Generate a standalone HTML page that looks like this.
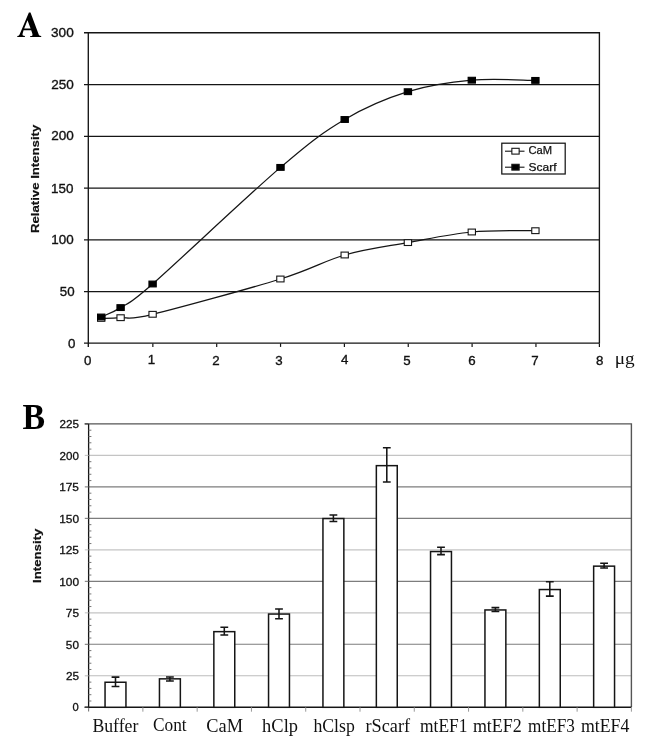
<!DOCTYPE html>
<html><head><meta charset="utf-8"><style>
html,body{margin:0;padding:0;background:#fff;}
body{width:647px;height:743px;overflow:hidden;}
svg{display:block;will-change:transform;}
.ta{font-family:"Liberation Sans",sans-serif;font-size:13.3px;fill:#111;stroke:#111;stroke-width:0.35px;}
.tb{font-family:"Liberation Sans",sans-serif;font-size:11.2px;fill:#111;stroke:#111;stroke-width:0.3px;}
.lg{font-family:"Liberation Sans",sans-serif;font-size:11px;fill:#111;stroke:#111;stroke-width:0.25px;}
.yt{font-family:"Liberation Sans",sans-serif;font-size:11px;font-weight:bold;fill:#111;stroke:#111;stroke-width:0.2px;}
.pl{font-family:"Liberation Serif",serif;font-size:35px;font-weight:bold;fill:#000;}
.mu{font-family:"Liberation Serif",serif;font-size:16px;fill:#111;}
.cat{font-family:"Liberation Serif",serif;font-size:18.2px;fill:#111;}
</style></head><body>
<svg width="647" height="743" viewBox="0 0 647 743">
<rect width="647" height="743" fill="#fff"/>
<line x1="84.00" y1="291.62" x2="599.40" y2="291.62" stroke="#151515" stroke-width="1.25"/>
<line x1="84.00" y1="239.85" x2="599.40" y2="239.85" stroke="#151515" stroke-width="1.25"/>
<line x1="84.00" y1="188.07" x2="599.40" y2="188.07" stroke="#151515" stroke-width="1.25"/>
<line x1="84.00" y1="136.30" x2="599.40" y2="136.30" stroke="#151515" stroke-width="1.25"/>
<line x1="84.00" y1="84.52" x2="599.40" y2="84.52" stroke="#151515" stroke-width="1.25"/>
<path d="M84.00 32.75H599.40V343.40" fill="none" stroke="#151515" stroke-width="1.35"/>
<line x1="88.30" y1="32.75" x2="88.30" y2="346.90" stroke="#151515" stroke-width="1.35"/>
<line x1="84.00" y1="343.10" x2="599.40" y2="343.10" stroke="#151515" stroke-width="1.35"/>
<line x1="152.85" y1="343.40" x2="152.85" y2="346.90" stroke="#151515" stroke-width="1.2"/>
<line x1="216.70" y1="343.40" x2="216.70" y2="346.90" stroke="#151515" stroke-width="1.2"/>
<line x1="280.55" y1="343.40" x2="280.55" y2="346.90" stroke="#151515" stroke-width="1.2"/>
<line x1="344.40" y1="343.40" x2="344.40" y2="346.90" stroke="#151515" stroke-width="1.2"/>
<line x1="408.25" y1="343.40" x2="408.25" y2="346.90" stroke="#151515" stroke-width="1.2"/>
<line x1="472.10" y1="343.40" x2="472.10" y2="346.90" stroke="#151515" stroke-width="1.2"/>
<line x1="535.95" y1="343.40" x2="535.95" y2="346.90" stroke="#151515" stroke-width="1.2"/>
<line x1="599.40" y1="343.40" x2="599.40" y2="346.90" stroke="#151515" stroke-width="1.2"/>
<text id="ya300" x="51.01" y="37.20" textLength="22.71" lengthAdjust="spacingAndGlyphs" class="ta">300</text>
<text id="ya250" x="51.21" y="88.97" textLength="22.57" lengthAdjust="spacingAndGlyphs" class="ta">250</text>
<text id="ya200" x="51.21" y="140.44" textLength="22.57" lengthAdjust="spacingAndGlyphs" class="ta">200</text>
<text id="ya150" x="51.05" y="192.55" textLength="22.35" lengthAdjust="spacingAndGlyphs" class="ta">150</text>
<text id="ya100" x="51.27" y="244.30" textLength="22.37" lengthAdjust="spacingAndGlyphs" class="ta">100</text>
<text id="ya50" x="59.75" y="296.07" textLength="14.80" lengthAdjust="spacingAndGlyphs" class="ta">50</text>
<text id="ya0" x="68.01" y="347.70" class="ta">0</text>
<text id="xa0" x="83.99" y="364.75" class="ta">0</text>
<text id="xa1" x="147.85" y="364.31" class="ta">1</text>
<text id="xa2" x="212.24" y="364.56" class="ta">2</text>
<text id="xa3" x="275.23" y="364.56" class="ta">3</text>
<text id="xa4" x="341.01" y="364.32" class="ta">4</text>
<text id="xa5" x="403.33" y="364.60" class="ta">5</text>
<text id="xa6" x="468.17" y="364.58" class="ta">6</text>
<text id="xa7" x="531.14" y="364.60" class="ta">7</text>
<text id="xa8" x="596.04" y="364.60" class="ta">8</text>
<text id="mu" x="614.72" y="364.18" textLength="19.89" lengthAdjust="spacingAndGlyphs" class="mu">&#956;g</text>
<text transform="translate(39.4,233.0) rotate(-90)" textLength="108.3" lengthAdjust="spacingAndGlyphs" class="yt">Relative Intensity</text>
<path d="M28.9 12.6L30.5 12.6L38.9 34.9Q39.6 35.9 41.2 36.1L41.2 37.1L30.2 37.1L30.2 36.1Q32.2 36.0 32.5 35.2Q32.6 34.6 32.3 33.6L31.2 30.3L23.6 30.3L22.7 33.2Q22.2 35.0 22.9 35.6Q23.5 36.0 24.9 36.1L24.9 37.1L17.3 37.1L17.3 36.1Q18.8 36.0 19.6 34.4ZM27.5 20.2L24.2 28.6L30.6 28.6Z" fill="#000" fill-rule="evenodd"/>
<path d="M101.20 318.40C104.43 318.28 112.03 318.38 120.60 317.70C129.17 317.02 125.97 320.75 152.60 314.30C179.23 307.85 248.38 288.88 280.40 279.00C312.42 269.12 323.45 261.07 344.70 255.00C365.95 248.93 386.72 246.43 407.90 242.60C429.08 238.77 450.55 233.98 471.80 232.00C493.05 230.02 524.80 230.92 535.40 230.70" fill="none" stroke="#151515" stroke-width="1.25"/>
<path d="M101.20 317.00C104.43 315.43 112.03 313.10 120.60 307.60C129.17 302.10 125.95 307.37 152.60 284.00C179.25 260.63 248.48 194.82 280.50 167.40C312.52 139.98 323.47 132.12 344.70 119.50C365.93 106.88 386.72 98.25 407.90 91.70C429.08 85.15 450.55 82.08 471.80 80.20C493.05 78.32 524.80 80.37 535.40 80.40" fill="none" stroke="#151515" stroke-width="1.25"/>
<rect x="97.55" y="315.50" width="7.3" height="5.8" fill="#fff" stroke="#151515" stroke-width="1.1"/>
<rect x="116.95" y="314.80" width="7.3" height="5.8" fill="#fff" stroke="#151515" stroke-width="1.1"/>
<rect x="148.95" y="311.40" width="7.3" height="5.8" fill="#fff" stroke="#151515" stroke-width="1.1"/>
<rect x="276.75" y="276.10" width="7.3" height="5.8" fill="#fff" stroke="#151515" stroke-width="1.1"/>
<rect x="341.05" y="252.10" width="7.3" height="5.8" fill="#fff" stroke="#151515" stroke-width="1.1"/>
<rect x="404.25" y="239.70" width="7.3" height="5.8" fill="#fff" stroke="#151515" stroke-width="1.1"/>
<rect x="468.15" y="229.10" width="7.3" height="5.8" fill="#fff" stroke="#151515" stroke-width="1.1"/>
<rect x="531.75" y="227.80" width="7.3" height="5.8" fill="#fff" stroke="#151515" stroke-width="1.1"/>
<rect x="97.55" y="314.10" width="7.3" height="5.8" fill="#000" stroke="#000" stroke-width="1.1"/>
<rect x="116.95" y="304.70" width="7.3" height="5.8" fill="#000" stroke="#000" stroke-width="1.1"/>
<rect x="148.95" y="281.10" width="7.3" height="5.8" fill="#000" stroke="#000" stroke-width="1.1"/>
<rect x="276.85" y="164.50" width="7.3" height="5.8" fill="#000" stroke="#000" stroke-width="1.1"/>
<rect x="341.05" y="116.60" width="7.3" height="5.8" fill="#000" stroke="#000" stroke-width="1.1"/>
<rect x="404.25" y="88.80" width="7.3" height="5.8" fill="#000" stroke="#000" stroke-width="1.1"/>
<rect x="468.15" y="77.30" width="7.3" height="5.8" fill="#000" stroke="#000" stroke-width="1.1"/>
<rect x="531.75" y="77.50" width="7.3" height="5.8" fill="#000" stroke="#000" stroke-width="1.1"/>
<rect x="501.8" y="143.2" width="63.4" height="30.8" fill="#fff" stroke="#151515" stroke-width="1.25"/>
<line x1="505" y1="151.2" x2="524.5" y2="151.2" stroke="#151515" stroke-width="1.1"/>
<rect x="511.85" y="148.30" width="7.3" height="5.8" fill="#fff" stroke="#151515" stroke-width="1.1"/>
<text id="lgCaM" x="528.42" y="154.45" textLength="23.58" lengthAdjust="spacingAndGlyphs" class="lg">CaM</text>
<line x1="505" y1="167.2" x2="524.5" y2="167.2" stroke="#151515" stroke-width="1.1"/>
<rect x="511.85" y="164.30" width="7.3" height="5.8" fill="#000" stroke="#151515" stroke-width="1.1"/>
<text id="lgScarf" x="528.62" y="170.69" textLength="27.93" lengthAdjust="spacingAndGlyphs" class="lg">Scarf</text>
<line x1="88.60" y1="675.81" x2="631.40" y2="675.81" stroke="#bdbdbd" stroke-width="1.1"/>
<line x1="88.60" y1="644.32" x2="631.40" y2="644.32" stroke="#7d7d7d" stroke-width="1.1"/>
<line x1="88.60" y1="612.83" x2="631.40" y2="612.83" stroke="#c4c4c4" stroke-width="1.1"/>
<line x1="88.60" y1="581.34" x2="631.40" y2="581.34" stroke="#7d7d7d" stroke-width="1.1"/>
<line x1="88.60" y1="549.86" x2="631.40" y2="549.86" stroke="#c4c4c4" stroke-width="1.1"/>
<line x1="88.60" y1="518.37" x2="631.40" y2="518.37" stroke="#7d7d7d" stroke-width="1.1"/>
<line x1="88.60" y1="486.88" x2="631.40" y2="486.88" stroke="#7d7d7d" stroke-width="1.1"/>
<line x1="88.60" y1="455.39" x2="631.40" y2="455.39" stroke="#c4c4c4" stroke-width="1.1"/>
<path d="M84.60 423.90H631.40V707.30" fill="none" stroke="#555" stroke-width="1.4"/>
<line x1="88.60" y1="423.90" x2="88.60" y2="708.30" stroke="#151515" stroke-width="1.3"/>
<line x1="88.60" y1="708.30" x2="88.60" y2="711.50" stroke="#777" stroke-width="1.1"/>
<line x1="84.60" y1="707.30" x2="631.40" y2="707.30" stroke="#151515" stroke-width="1.4"/>
<line x1="84.80" y1="707.30" x2="88.60" y2="707.30" stroke="#444" stroke-width="1.1"/>
<line x1="84.80" y1="675.81" x2="88.60" y2="675.81" stroke="#bdbdbd" stroke-width="1.1"/>
<line x1="84.80" y1="644.32" x2="88.60" y2="644.32" stroke="#7d7d7d" stroke-width="1.1"/>
<line x1="84.80" y1="612.83" x2="88.60" y2="612.83" stroke="#c4c4c4" stroke-width="1.1"/>
<line x1="84.80" y1="581.34" x2="88.60" y2="581.34" stroke="#7d7d7d" stroke-width="1.1"/>
<line x1="84.80" y1="549.86" x2="88.60" y2="549.86" stroke="#c4c4c4" stroke-width="1.1"/>
<line x1="84.80" y1="518.37" x2="88.60" y2="518.37" stroke="#7d7d7d" stroke-width="1.1"/>
<line x1="84.80" y1="486.88" x2="88.60" y2="486.88" stroke="#7d7d7d" stroke-width="1.1"/>
<line x1="84.80" y1="455.39" x2="88.60" y2="455.39" stroke="#c4c4c4" stroke-width="1.1"/>
<line x1="84.80" y1="423.90" x2="88.60" y2="423.90" stroke="#444" stroke-width="1.1"/>
<line x1="88.60" y1="701.00" x2="91.40" y2="701.00" stroke="#777" stroke-width="1.0"/>
<line x1="88.60" y1="694.70" x2="91.40" y2="694.70" stroke="#777" stroke-width="1.0"/>
<line x1="88.60" y1="688.41" x2="91.40" y2="688.41" stroke="#777" stroke-width="1.0"/>
<line x1="88.60" y1="682.11" x2="91.40" y2="682.11" stroke="#777" stroke-width="1.0"/>
<line x1="88.60" y1="669.51" x2="91.40" y2="669.51" stroke="#777" stroke-width="1.0"/>
<line x1="88.60" y1="663.22" x2="91.40" y2="663.22" stroke="#777" stroke-width="1.0"/>
<line x1="88.60" y1="656.92" x2="91.40" y2="656.92" stroke="#777" stroke-width="1.0"/>
<line x1="88.60" y1="650.62" x2="91.40" y2="650.62" stroke="#777" stroke-width="1.0"/>
<line x1="88.60" y1="638.02" x2="91.40" y2="638.02" stroke="#777" stroke-width="1.0"/>
<line x1="88.60" y1="631.73" x2="91.40" y2="631.73" stroke="#777" stroke-width="1.0"/>
<line x1="88.60" y1="625.43" x2="91.40" y2="625.43" stroke="#777" stroke-width="1.0"/>
<line x1="88.60" y1="619.13" x2="91.40" y2="619.13" stroke="#777" stroke-width="1.0"/>
<line x1="88.60" y1="606.54" x2="91.40" y2="606.54" stroke="#777" stroke-width="1.0"/>
<line x1="88.60" y1="600.24" x2="91.40" y2="600.24" stroke="#777" stroke-width="1.0"/>
<line x1="88.60" y1="593.94" x2="91.40" y2="593.94" stroke="#777" stroke-width="1.0"/>
<line x1="88.60" y1="587.64" x2="91.40" y2="587.64" stroke="#777" stroke-width="1.0"/>
<line x1="88.60" y1="575.05" x2="91.40" y2="575.05" stroke="#777" stroke-width="1.0"/>
<line x1="88.60" y1="568.75" x2="91.40" y2="568.75" stroke="#777" stroke-width="1.0"/>
<line x1="88.60" y1="562.45" x2="91.40" y2="562.45" stroke="#777" stroke-width="1.0"/>
<line x1="88.60" y1="556.15" x2="91.40" y2="556.15" stroke="#777" stroke-width="1.0"/>
<line x1="88.60" y1="543.56" x2="91.40" y2="543.56" stroke="#777" stroke-width="1.0"/>
<line x1="88.60" y1="537.26" x2="91.40" y2="537.26" stroke="#777" stroke-width="1.0"/>
<line x1="88.60" y1="530.96" x2="91.40" y2="530.96" stroke="#777" stroke-width="1.0"/>
<line x1="88.60" y1="524.66" x2="91.40" y2="524.66" stroke="#777" stroke-width="1.0"/>
<line x1="88.60" y1="512.07" x2="91.40" y2="512.07" stroke="#777" stroke-width="1.0"/>
<line x1="88.60" y1="505.77" x2="91.40" y2="505.77" stroke="#777" stroke-width="1.0"/>
<line x1="88.60" y1="499.47" x2="91.40" y2="499.47" stroke="#777" stroke-width="1.0"/>
<line x1="88.60" y1="493.18" x2="91.40" y2="493.18" stroke="#777" stroke-width="1.0"/>
<line x1="88.60" y1="480.58" x2="91.40" y2="480.58" stroke="#777" stroke-width="1.0"/>
<line x1="88.60" y1="474.28" x2="91.40" y2="474.28" stroke="#777" stroke-width="1.0"/>
<line x1="88.60" y1="467.98" x2="91.40" y2="467.98" stroke="#777" stroke-width="1.0"/>
<line x1="88.60" y1="461.69" x2="91.40" y2="461.69" stroke="#777" stroke-width="1.0"/>
<line x1="88.60" y1="449.09" x2="91.40" y2="449.09" stroke="#777" stroke-width="1.0"/>
<line x1="88.60" y1="442.79" x2="91.40" y2="442.79" stroke="#777" stroke-width="1.0"/>
<line x1="88.60" y1="436.50" x2="91.40" y2="436.50" stroke="#777" stroke-width="1.0"/>
<line x1="88.60" y1="430.20" x2="91.40" y2="430.20" stroke="#777" stroke-width="1.0"/>
<line x1="142.88" y1="707.30" x2="142.88" y2="711.70" stroke="#999" stroke-width="1.0"/>
<line x1="197.16" y1="707.30" x2="197.16" y2="711.70" stroke="#999" stroke-width="1.0"/>
<line x1="251.44" y1="707.30" x2="251.44" y2="711.70" stroke="#999" stroke-width="1.0"/>
<line x1="305.72" y1="707.30" x2="305.72" y2="711.70" stroke="#999" stroke-width="1.0"/>
<line x1="360.00" y1="707.30" x2="360.00" y2="711.70" stroke="#999" stroke-width="1.0"/>
<line x1="414.28" y1="707.30" x2="414.28" y2="711.70" stroke="#999" stroke-width="1.0"/>
<line x1="468.56" y1="707.30" x2="468.56" y2="711.70" stroke="#999" stroke-width="1.0"/>
<line x1="522.84" y1="707.30" x2="522.84" y2="711.70" stroke="#999" stroke-width="1.0"/>
<line x1="577.12" y1="707.30" x2="577.12" y2="711.70" stroke="#999" stroke-width="1.0"/>
<line x1="631.40" y1="707.30" x2="631.40" y2="711.70" stroke="#999" stroke-width="1.0"/>
<text id="yb0" x="72.60" y="711.42" class="tb">0</text>
<text id="yb25" x="65.96" y="679.81" textLength="13.08" lengthAdjust="spacingAndGlyphs" class="tb">25</text>
<text id="yb50" x="65.86" y="648.63" textLength="13.06" lengthAdjust="spacingAndGlyphs" class="tb">50</text>
<text id="yb75" x="65.86" y="616.83" textLength="13.17" lengthAdjust="spacingAndGlyphs" class="tb">75</text>
<text id="yb100" x="59.21" y="585.60" textLength="19.87" lengthAdjust="spacingAndGlyphs" class="tb">100</text>
<text id="yb125" x="59.20" y="553.86" textLength="19.78" lengthAdjust="spacingAndGlyphs" class="tb">125</text>
<text id="yb150" x="59.21" y="522.76" textLength="19.87" lengthAdjust="spacingAndGlyphs" class="tb">150</text>
<text id="yb175" x="59.20" y="490.88" textLength="19.78" lengthAdjust="spacingAndGlyphs" class="tb">175</text>
<text id="yb200" x="59.56" y="459.77" textLength="19.35" lengthAdjust="spacingAndGlyphs" class="tb">200</text>
<text id="yb225" x="59.56" y="427.90" textLength="19.45" lengthAdjust="spacingAndGlyphs" class="tb">225</text>
<text transform="translate(40.7,583.0) rotate(-90)" textLength="54.4" lengthAdjust="spacingAndGlyphs" class="yt">Intensity</text>
<text id="pB" x="22.38" y="428.60" textLength="22.59" lengthAdjust="spacingAndGlyphs" class="pl">B</text>
<rect x="105.05" y="682.25" width="20.9" height="25.05" fill="#fff" stroke="#151515" stroke-width="1.5"/>
<path d="M111.60 677.10H119.40M115.50 677.10V686.50M111.60 686.50H119.40" fill="none" stroke="#151515" stroke-width="1.55"/>
<text id="cBuffer" x="92.40" y="732.05" textLength="45.97" lengthAdjust="spacingAndGlyphs" class="cat">Buffer</text>
<rect x="159.45" y="678.85" width="20.9" height="28.45" fill="#fff" stroke="#151515" stroke-width="1.5"/>
<path d="M166.00 676.90H173.80M169.90 676.90V680.90M166.00 680.90H173.80" fill="none" stroke="#151515" stroke-width="1.55"/>
<text id="cCont" x="153.02" y="731.28" textLength="33.66" lengthAdjust="spacingAndGlyphs" class="cat">Cont</text>
<rect x="213.85" y="631.65" width="20.9" height="75.65" fill="#fff" stroke="#151515" stroke-width="1.5"/>
<path d="M220.40 627.30H228.20M224.30 627.30V634.90M220.40 634.90H228.20" fill="none" stroke="#151515" stroke-width="1.55"/>
<text id="cCaM" x="206.32" y="731.68" textLength="36.66" lengthAdjust="spacingAndGlyphs" class="cat">CaM</text>
<rect x="268.55" y="614.05" width="20.9" height="93.25" fill="#fff" stroke="#151515" stroke-width="1.5"/>
<path d="M275.10 609.00H282.90M279.00 609.00V618.70M275.10 618.70H282.90" fill="none" stroke="#151515" stroke-width="1.55"/>
<text id="chClp" x="262.14" y="731.52" textLength="35.86" lengthAdjust="spacingAndGlyphs" class="cat">hClp</text>
<rect x="322.95" y="518.55" width="20.9" height="188.75" fill="#fff" stroke="#151515" stroke-width="1.5"/>
<path d="M329.50 514.90H337.30M333.40 514.90V521.40M329.50 521.40H337.30" fill="none" stroke="#151515" stroke-width="1.55"/>
<text id="chClsp" x="313.38" y="731.50" textLength="41.40" lengthAdjust="spacingAndGlyphs" class="cat">hClsp</text>
<rect x="376.35" y="465.65" width="20.9" height="241.65" fill="#fff" stroke="#151515" stroke-width="1.5"/>
<path d="M382.90 447.70H390.70M386.80 447.70V482.00M382.90 482.00H390.70" fill="none" stroke="#151515" stroke-width="1.55"/>
<text id="crScarf" x="365.55" y="731.98" textLength="44.56" lengthAdjust="spacingAndGlyphs" class="cat">rScarf</text>
<rect x="430.55" y="551.55" width="20.9" height="155.75" fill="#fff" stroke="#151515" stroke-width="1.5"/>
<path d="M437.10 547.30H444.90M441.00 547.30V554.60M437.10 554.60H444.90" fill="none" stroke="#151515" stroke-width="1.55"/>
<text id="cmtEF1" x="420.03" y="731.68" textLength="47.46" lengthAdjust="spacingAndGlyphs" class="cat">mtEF1</text>
<rect x="484.95" y="609.95" width="20.9" height="97.35" fill="#fff" stroke="#151515" stroke-width="1.5"/>
<path d="M491.50 607.60H499.30M495.40 607.60V611.40M491.50 611.40H499.30" fill="none" stroke="#151515" stroke-width="1.55"/>
<text id="cmtEF2" x="472.90" y="731.68" textLength="48.87" lengthAdjust="spacingAndGlyphs" class="cat">mtEF2</text>
<rect x="539.35" y="589.55" width="20.9" height="117.75" fill="#fff" stroke="#151515" stroke-width="1.5"/>
<path d="M545.90 581.70H553.70M549.80 581.70V596.10M545.90 596.10H553.70" fill="none" stroke="#151515" stroke-width="1.55"/>
<text id="cmtEF3" x="528.10" y="731.67" textLength="46.75" lengthAdjust="spacingAndGlyphs" class="cat">mtEF3</text>
<rect x="593.65" y="566.15" width="20.9" height="141.15" fill="#fff" stroke="#151515" stroke-width="1.5"/>
<path d="M600.20 563.20H608.00M604.10 563.20V567.90M600.20 567.90H608.00" fill="none" stroke="#151515" stroke-width="1.55"/>
<text id="cmtEF4" x="580.91" y="731.68" textLength="48.37" lengthAdjust="spacingAndGlyphs" class="cat">mtEF4</text>
</svg>
</body></html>
